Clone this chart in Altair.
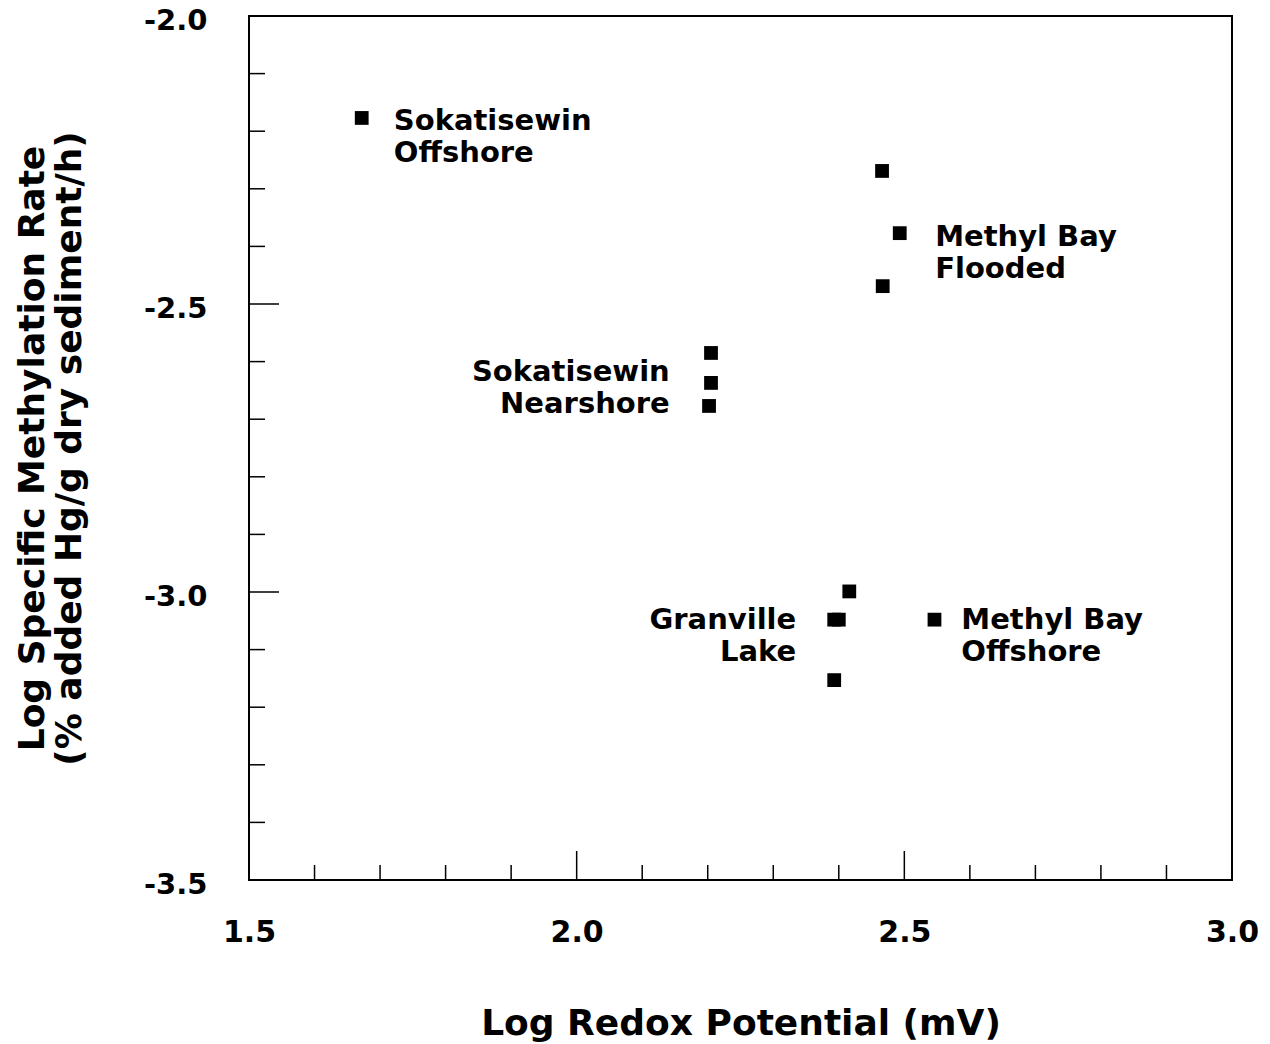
import altair as alt
import pandas as pd

# Measured sites: log redox potential (mV) vs log specific methylation rate
site = [
    "Sokatisewin Offshore",
    "Methyl Bay Flooded", "Methyl Bay Flooded", "Methyl Bay Flooded",
    "Sokatisewin Nearshore", "Sokatisewin Nearshore", "Sokatisewin Nearshore",
    "Granville Lake", "Granville Lake", "Granville Lake", "Granville Lake",
    "Methyl Bay Offshore",
]
log_redox = [1.672, 2.466, 2.493, 2.467, 2.205, 2.205, 2.202, 2.416, 2.393, 2.400, 2.393, 2.546]
log_rate = [-2.177, -2.269, -2.377, -2.469, -2.585, -2.637, -2.677, -2.999, -3.048, -3.048, -3.153, -3.048]

# Site labels (two lines each), anchored on the first line's baseline
left_label_lines = [["Sokatisewin", "Offshore"], ["Methyl Bay", "Flooded"], ["Methyl Bay", "Offshore"]]
left_label_x = [1.721, 2.547, 2.587]
left_label_y = [-2.198, -2.399, -3.064]

right_label_lines = [["Sokatisewin", "Nearshore"], ["Granville", "Lake"]]
right_label_x = [2.142, 2.335]
right_label_y = [-2.634, -3.064]

# Inward tick marks
x_minor = [1.6, 1.7, 1.8, 1.9, 2.1, 2.2, 2.3, 2.4, 2.6, 2.7, 2.8, 2.9]
x_major = [2.0, 2.5]
y_minor = [-2.1, -2.2, -2.3, -2.4, -2.6, -2.7, -2.8, -2.9, -3.1, -3.2, -3.3, -3.4]
y_major = [-2.5, -3.0]
x_labels = [1.5, 2.0, 2.5, 3.0]
y_labels = [-2.0, -2.5, -3.0, -3.5]

W, H = 983, 864
FONT = "DejaVu Sans"

points = pd.DataFrame({"site": site, "redox": log_redox, "rate": log_rate})

xscale = alt.Scale(domain=[1.5, 3.0], nice=False, zero=False)
yscale = alt.Scale(domain=[-3.5, -2.0], nice=False, zero=False)

x_axis = alt.Axis(
    values=x_labels, labelExpr="format(datum.value, '.1f')",
    ticks=False, domain=False, grid=False,
    labelFont=FONT, labelFontSize=30, labelFontWeight="bold", labelColor="black",
    labelPadding=37, labelFlush=False, labelOverlap=False,
    title="Log Redox Potential (mV)", titleFont=FONT, titleFontSize=36,
    titleFontWeight="bold", titleColor="black", titleBaseline="alphabetic",
    titleY=154,
)
y_axis = alt.Axis(
    values=y_labels,
    labelExpr="replace(format(datum.value, '.1f'), '\u2212', '-')",
    ticks=False, domain=False, grid=False,
    labelFont=FONT, labelFontSize=29, labelFontWeight="bold", labelColor="black",
    labelPadding=42, labelOffset=4, labelFlush=False, labelOverlap=False,
    title=["Log Specific Methylation Rate", "(% added Hg/g dry sediment/h)"],
    titleFont=FONT, titleFontSize=36, titleFontWeight="bold", titleColor="black",
    titleAngle=-90, titleBaseline="alphabetic", titleAlign="center",
    titleLineHeight=37, titleX=-206, titleY=H / 2,
)

pts = alt.Chart(points).mark_square(size=190, color="black", opacity=1).encode(
    x=alt.X("redox:Q", scale=xscale, axis=x_axis),
    y=alt.Y("rate:Q", scale=yscale, axis=y_axis),
)

left_df = pd.DataFrame({"txt": left_label_lines, "x": left_label_x, "y": left_label_y})
right_df = pd.DataFrame({"txt": right_label_lines, "x": right_label_x, "y": right_label_y})

text_style = dict(font=FONT, fontSize=29, fontWeight="bold", color="black",
                  baseline="alphabetic", lineHeight=32)

left_text = alt.Chart(left_df).mark_text(align="left", **text_style).encode(
    x=alt.X("x:Q", scale=xscale), y=alt.Y("y:Q", scale=yscale), text="txt"
)
right_text = alt.Chart(right_df).mark_text(align="right", **text_style).encode(
    x=alt.X("x:Q", scale=xscale), y=alt.Y("y:Q", scale=yscale), text="txt"
)

def xticks(vals, length):
    return alt.Chart(pd.DataFrame({"v": vals})).mark_rule(color="black", strokeWidth=1.5).encode(
        x=alt.X("v:Q", scale=xscale), y=alt.value(H), y2=alt.value(H - length)
    )

def yticks(vals, length):
    return alt.Chart(pd.DataFrame({"v": vals})).mark_rule(color="black", strokeWidth=1.5).encode(
        y=alt.Y("v:Q", scale=yscale), x=alt.value(0), x2=alt.value(length)
    )

chart = alt.layer(
    pts, left_text, right_text,
    xticks(x_minor, 15), xticks(x_major, 29),
    yticks(y_minor, 16), yticks(y_major, 30),
).properties(
    width=W, height=H,
    background="white",
    autosize=alt.AutoSizeParams(type="none"),
    padding={"left": 249, "top": 16, "right": 1270 - 249 - W, "bottom": 1044 - 16 - H},
).configure_view(
    stroke="black", strokeWidth=2
)

chart.save("out.html", embed_options={"renderer": "svg", "actions": False})
